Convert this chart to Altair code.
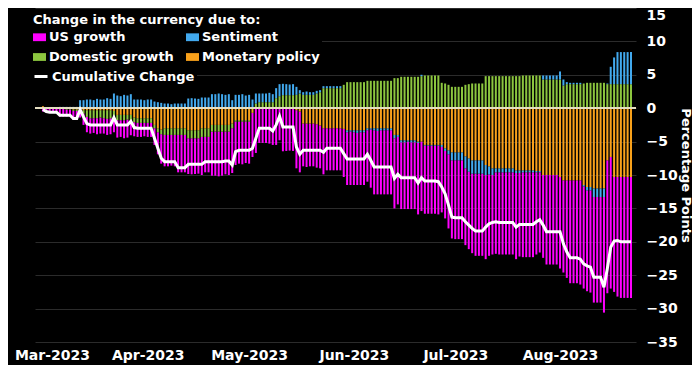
import altair as alt
import pandas as pd

# ---- data (daily, 1 Mar 2023 .. 22 Aug 2023) ----
dates = pd.date_range("2023-03-01", "2023-08-22", freq="D").strftime("%Y-%m-%d").tolist()

sentiment = [
    0.0, 0.05, 0.1, 0.1, 0.1, 0.2, 0.2, 0.2, 0.2, 0.2,
    0.2, 1.2, 1.2, 1.3, 1.3, 1.2, 1.4, 1.3, 1.3, 1.5,
    1.4, 2.2, 1.9, 1.8, 2.0, 1.9, 2.1, 1.3, 1.3, 1.3,
    1.2, 1.3, 1.3, 1.0, 0.9, 0.8, 0.7, 0.7, 0.6, 0.7,
    0.7, 0.7, 0.7, 1.45, 1.5, 1.45, 1.4, 1.6, 1.6, 1.6,
    2.1, 2.1, 2.2, 2.1, 2.0, 2.1, 1.2, 2.0, 2.0, 2.1,
    1.9, 2.0, 1.3, 1.5, 1.3, 1.3, 1.3, 1.4, 1.2, 1.5,
    1.8, 1.7, 1.65, 1.6, 1.65, 1.2, 0.5, 0.4, 0.5, 0.4,
    0.4, 0.4, 0.3, 0.3, 0.3, 0.3, 0.3, 0.3, 0.3, 0.0,
    -0.3, -0.2, -0.3, -0.4, -0.3, -0.3, -0.3, -0.2, -0.3, -0.4,
    -0.3, -0.3, -0.3, -0.3, -0.5, -0.3, -0.3, -0.3, -0.2, -0.3,
    -0.3, -0.2, 0.2, -0.1, -0.1, -0.1, -0.1, -0.1, -0.3, -0.4,
    -0.6, -1.2, -1.2, -1.2, -1.2, -1.8, -2.0, -2.0, -2.0, -2.0,
    -2.0, -1.5, -1.2, -1.0, -0.6, -0.6, -0.6, -0.6, -0.6, -0.6,
    -0.4, -0.4, -0.3, -0.3, -0.3, -0.3, -0.2, -0.2, 0.6, 0.6,
    0.6, 0.6, 0.6, 1.2, 0.9, 0.3, 0.2, 0.2, 0.2, 0.2,
    -0.2, -0.5, -0.5, -1.3, -1.3, -1.3, -1.3, 0.1, 2.6, 4.0,
    4.8, 4.8, 4.8, 4.8, 4.8,
]

domestic = [
    0.0, 0.0, 0.0, 0.0, 0.0, -0.05, -0.05, -0.1, -0.1, -0.2,
    -0.2, -0.1, -0.5, -1.0, -1.2, -1.2, -1.2, -1.1, -1.2, -1.3,
    -1.2, -1.0, -0.8, -0.8, -0.8, -0.7, -0.8, -0.7, -0.7, -0.7,
    -0.7, -0.7, -0.7, -0.5, -0.6, -0.7, -1.0, -1.0, -1.0, -1.0,
    -1.0, -1.0, -1.0, -1.2, -1.2, -1.2, -1.2, -1.3, -1.3, -1.3,
    -1.0, -1.0, -1.0, -1.0, -1.0, -1.0, -0.7, -0.2, -0.2, -0.2,
    -0.2, -0.2, 0.0, 0.7, 0.9, 0.9, 0.9, 0.9, 0.9, 1.5,
    1.8, 1.95, 1.95, 1.95, 1.95, 2.0, 2.2, 2.0, 2.0, 2.0,
    2.0, 2.2, 2.4, 3.0, 3.0, 3.0, 3.0, 3.0, 3.0, 3.5,
    3.9, 3.9, 3.9, 3.9, 3.9, 3.9, 4.1, 4.1, 4.1, 4.1,
    4.1, 4.1, 4.1, 4.1, 4.5, 4.5, 4.7, 4.7, 4.7, 4.7,
    4.7, 4.7, 4.8, 4.9, 4.9, 4.9, 4.9, 4.9, 3.8, 3.7,
    3.5, 3.2, 3.2, 3.2, 3.2, 3.5, 3.6, 3.7, 3.7, 3.7,
    3.7, 4.8, 4.8, 4.8, 4.8, 4.8, 4.8, 4.8, 4.8, 4.8,
    4.8, 4.8, 4.9, 4.9, 4.9, 4.9, 4.9, 4.9, 4.3, 4.3,
    4.3, 4.3, 4.3, 4.3, 3.4, 3.6, 3.6, 3.6, 3.6, 3.6,
    3.7, 3.8, 3.8, 3.8, 3.8, 3.8, 3.8, 3.6, 3.6, 3.6,
    3.6, 3.6, 3.6, 3.6, 3.6,
]

monetary = [
    0.3, 0.1, 0.0, -0.05, -0.05, -0.05, -0.05, -0.1, -0.1, -0.2,
    -0.2, -0.2, -0.3, -0.3, -0.3, -0.3, -0.3, -0.3, -0.3, -0.3,
    -0.3, -0.4, -1.0, -1.0, -1.0, -1.0, -1.0, -1.4, -1.5, -1.5,
    -1.5, -1.5, -1.5, -2.5, -3.0, -3.2, -3.0, -3.0, -3.0, -3.0,
    -3.0, -3.0, -3.0, -3.3, -3.3, -3.3, -3.3, -3.0, -3.0, -3.0,
    -2.5, -2.5, -2.5, -2.5, -2.5, -2.5, -2.3, -1.8, -1.8, -1.8,
    -1.8, -1.8, -0.7, 0.0, -0.1, -0.1, -0.1, -0.1, -0.1, -0.1,
    -0.1, -0.1, -0.1, -0.1, -0.1, -0.3, -0.5, -2.3, -2.3, -2.3,
    -2.3, -2.4, -2.6, -3.0, -3.0, -3.0, -3.0, -3.0, -3.0, -3.1,
    -3.3, -3.3, -3.3, -3.3, -3.3, -3.3, -3.0, -3.0, -3.0, -3.0,
    -3.0, -3.0, -3.0, -3.0, -4.0, -4.0, -4.8, -4.8, -4.8, -4.8,
    -4.8, -5.0, -5.0, -5.5, -5.5, -5.5, -5.5, -5.5, -5.5, -6.0,
    -6.3, -6.6, -6.6, -6.6, -6.6, -7.2, -7.5, -7.8, -7.8, -7.8,
    -7.8, -8.5, -8.7, -9.0, -9.0, -9.0, -9.0, -9.0, -9.0, -9.0,
    -9.3, -9.3, -9.3, -9.3, -9.3, -9.3, -9.4, -9.4, -10.0, -10.0,
    -10.0, -10.0, -10.0, -10.3, -10.8, -10.8, -10.8, -10.8, -10.8, -10.8,
    -11.5, -11.8, -11.8, -12.0, -12.0, -12.0, -12.0, -7.8, -7.3, -10.3,
    -10.3, -10.3, -10.3, -10.3, -10.3,
]

us_growth = [
    -0.5, -0.65, -0.7, -0.65, -0.65, -1.15, -1.15, -1.05, -1.05, -1.35,
    -1.35, -1.1, -1.7, -2.3, -2.3, -2.2, -2.4, -2.4, -2.3, -2.4,
    -2.4, -2.2, -2.6, -2.5, -2.7, -2.7, -2.25, -2.1, -2.1, -2.1,
    -2.0, -2.1, -2.1, -2.5, -3.3, -4.4, -4.7, -4.7, -4.6, -4.7,
    -5.6, -5.6, -5.6, -5.35, -5.4, -5.35, -5.3, -5.7, -5.3, -5.3,
    -6.6, -6.6, -6.7, -6.6, -6.4, -6.5, -6.7, -6.5, -6.3, -6.4,
    -6.2, -6.3, -6.6, -6.7, -5.1, -5.1, -5.1, -5.2, -5.4, -5.4,
    -4.7, -6.35, -6.3, -6.25, -6.3, -8.7, -9.1, -6.4, -6.5, -6.4,
    -6.4, -6.5, -6.4, -6.9, -6.3, -6.3, -6.3, -6.3, -6.3, -7.2,
    -7.9, -8.0, -7.9, -7.8, -7.9, -7.9, -7.7, -8.7, -9.6, -9.5,
    -9.6, -9.6, -9.6, -9.6, -10.5, -10.1, -10.0, -10.0, -10.1, -10.0,
    -10.0, -10.7, -10.4, -10.2, -10.2, -10.2, -10.2, -10.3, -9.8, -10.1,
    -11.1, -11.7, -11.8, -11.8, -11.8, -11.5, -11.6, -11.9, -12.3, -12.3,
    -12.3, -12.6, -12.2, -11.9, -12.2, -12.3, -12.3, -12.3, -12.3, -12.3,
    -12.9, -12.5, -12.7, -12.7, -12.7, -12.7, -12.3, -12.0, -12.4, -13.4,
    -13.4, -13.4, -13.4, -13.7, -13.8, -14.6, -15.4, -15.4, -15.4, -15.6,
    -15.3, -15.1, -15.3, -15.8, -15.8, -15.8, -17.3, -19.9, -19.7, -17.2,
    -17.9, -18.1, -18.1, -18.1, -18.1,
]

cumulative = [
    -0.2, -0.5, -0.6, -0.6, -0.6, -1.05, -1.05, -1.05, -1.05, -1.55,
    -1.55, -0.2, -1.3, -2.3, -2.5, -2.5, -2.5, -2.5, -2.5, -2.5,
    -2.5, -1.4, -2.5, -2.5, -2.5, -2.5, -1.95, -2.9, -3.0, -3.0,
    -3.0, -3.0, -3.0, -4.5, -6.0, -7.5, -8.0, -8.0, -8.0, -8.0,
    -8.9, -8.9, -8.9, -8.4, -8.4, -8.4, -8.4, -8.4, -8.0, -8.0,
    -8.0, -8.0, -8.0, -8.0, -7.9, -7.9, -8.5, -6.5, -6.3, -6.3,
    -6.3, -6.3, -6.0, -4.5, -3.0, -3.0, -3.0, -3.0, -3.4, -2.5,
    -1.2, -2.8, -2.8, -2.8, -2.8, -5.8, -6.9, -6.3, -6.3, -6.3,
    -6.3, -6.3, -6.3, -6.6, -6.0, -6.0, -6.0, -6.0, -6.0, -6.8,
    -7.6, -7.6, -7.6, -7.6, -7.6, -7.6, -6.9, -7.8, -8.8, -8.8,
    -8.8, -8.8, -8.8, -8.8, -10.5, -9.9, -10.4, -10.4, -10.4, -10.4,
    -10.4, -11.2, -10.4, -10.9, -10.9, -10.9, -10.9, -11.0, -11.8, -12.8,
    -14.5, -16.3, -16.4, -16.4, -16.4, -17.0, -17.5, -18.0, -18.4, -18.4,
    -18.4, -17.8, -17.3, -17.1, -17.0, -17.1, -17.1, -17.1, -17.1, -17.1,
    -17.8, -17.4, -17.4, -17.4, -17.4, -17.4, -17.0, -16.7, -17.5, -18.5,
    -18.5, -18.5, -18.5, -18.5, -20.3, -21.5, -22.4, -22.4, -22.4, -22.6,
    -23.3, -23.6, -23.8, -25.3, -25.3, -25.3, -26.8, -24.0, -20.8, -19.9,
    -19.8, -20.0, -20.0, -20.0, -20.0,
]

# legend order (filled column by column): US growth, Domestic growth | Sentiment, Monetary policy
series_names = ["US growth", "Domestic growth", "Sentiment", "Monetary policy"]
series_colors = ["#ff00ff", "#8cc63f", "#42a9ee", "#f9a11b"]
stack_rank = {"Monetary policy": 0, "Domestic growth": 1, "Sentiment": 2, "US growth": 3}
series_values = {
    "US growth": us_growth,
    "Sentiment": sentiment,
    "Domestic growth": domestic,
    "Monetary policy": monetary,
}
line_name = "Cumulative Change"
month_starts = [(2023, 3), (2023, 4), (2023, 5), (2023, 6), (2023, 7), (2023, 8)]
y_ticks = [-35, -30, -25, -20, -15, -10, -5, 0, 5, 10, 15]

rows = []
for name in series_names:
    for d, v in zip(dates, series_values[name]):
        rows.append({"date": d, "series": name, "value": v, "rank": stack_rank[name]})
bars_df = pd.DataFrame(rows)
line_df = pd.DataFrame({"date": dates, "value": cumulative, "label": line_name})

FONT = "DejaVu Sans"

x_scale = alt.Scale(
    type="utc",
    domain=[
        alt.DateTime(year=2023, month=2, date=28, hours=3, utc=True),
        alt.DateTime(year=2023, month=8, date=22, utc=True),
    ],
)
x_axis = alt.Axis(
    values=[alt.DateTime(year=y, month=m, date=1, utc=True) for y, m in month_starts],
    format="%b-%Y",
    title=None,
    grid=False,
    domain=False,
    ticks=False,
    labelPadding=6,
    labelFont=FONT,
    labelFontSize=14,
    labelFontWeight="bold",
    labelColor="white",
    labelOverlap=False,
    labelOffset={"condition": {"test": "datum.index === 0", "value": 9}, "value": 0},
)
y_scale = alt.Scale(domain=[-35, 15], nice=False, zero=False)
y_axis = alt.Axis(
    orient="right",
    values=y_ticks,
    title="Percentage Points",
    grid=True,
    gridColor="#2b2b2b",
    gridWidth=1,
    domain=False,
    ticks=False,
    labelOverlap=False,
    labelPadding=10,
    labelFont=FONT,
    labelFontSize=14,
    labelFontWeight="bold",
    labelColor="white",
    labelBaseline={"condition": {"test": "datum.value === 15", "value": "top"}, "value": "middle"},
    titleFont=FONT,
    titleFontSize=13,
    titleFontWeight="bold",
    titleColor="white",
    titleAngle=90,
    titleAlign="center",
    titleBaseline="middle",
    titleX=49,
    titleY=167,
)

bars = alt.Chart(bars_df).mark_bar(size=2.0).encode(
    x=alt.X("date:T", scale=x_scale, axis=x_axis),
    y=alt.Y("value:Q", stack="zero", scale=y_scale, axis=y_axis),
    color=alt.Color(
        "series:N",
        scale=alt.Scale(domain=series_names, range=series_colors),
        legend=alt.Legend(
            title="Change in the currency due to:",
            orient="none",
            legendX=-4,
            legendY=3.5,
            columns=2,
            columnPadding=12,
            rowPadding=6,
            padding=2,
            fillColor="black",
            symbolType="M-1,-0.6H1V0.6H-1Z",
            symbolSize=169,
            symbolStrokeWidth=0,
            symbolOpacity=1,
            labelOffset=3,
            labelLimit=0,
            labelFont=FONT,
            labelFontSize=13,
            labelFontWeight="bold",
            labelColor="white",
            titleFont=FONT,
            titleFontSize=13,
            titleFontWeight="bold",
            titleColor="white",
            titlePadding=4,
            titleLimit=0,
        ),
    ),
    order=alt.Order("rank:Q"),
)

zero = alt.Chart(bars_df).mark_rule(color="#e6dfc3", strokeWidth=1).encode(
    y=alt.YDatum(0, scale=y_scale, axis=y_axis)
)

line = alt.Chart(line_df).mark_line(strokeWidth=3, color="white").encode(
    x=alt.X("date:T", scale=x_scale, axis=x_axis),
    y=alt.Y("value:Q", scale=y_scale, axis=y_axis),
    stroke=alt.Stroke(
        "label:N",
        scale=alt.Scale(domain=[line_name], range=["white"]),
        legend=alt.Legend(
            title=None,
            orient="none",
            legendX=-4,
            legendY=58.5,
            padding=2,
            fillColor="black",
            symbolType="stroke",
            symbolSize=169,
            symbolStrokeWidth=3,
            labelOffset=3,
            labelLimit=0,
            labelFont=FONT,
            labelFontSize=13,
            labelFontWeight="bold",
            labelColor="white",
        ),
    ),
)

chart = alt.layer(bars, zero, line).properties(
    width=601,
    height=334,
    padding={"left": 27, "top": 0, "right": 56, "bottom": 23},
    autosize=alt.AutoSizeParams(type="none"),
    background="black",
).configure_view(stroke=None).configure_axis(labelOverlap=False)

chart.save("out.html", embed_options={"renderer": "svg", "actions": False})
